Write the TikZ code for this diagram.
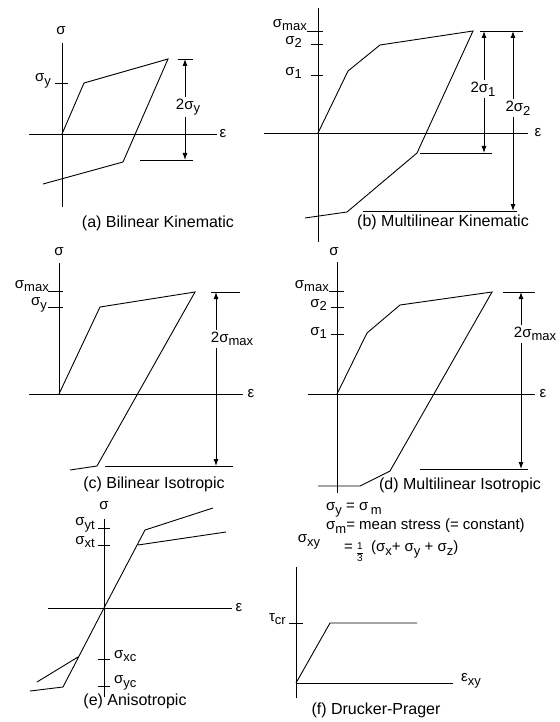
\documentclass[tikz,border=0pt]{standalone}
\usepackage{fontspec}
\setmainfont{Liberation Sans}
\usetikzlibrary{arrows.meta}
\newcommand{\sg}{σ}
\newcommand{\sbs}[1]{\raisebox{-0.45ex}{\fontsize{13}{13}\selectfont #1}}
\newcommand{\third}{\raisebox{-0.3\height}{\fontsize{10}{10}\selectfont\renewcommand{\arraystretch}{1.15}\setlength{\tabcolsep}{0pt}\begin{tabular}{c}1\\\hline 3\end{tabular}}}
\tikzset{ln/.style={line width=0.9pt}}
\tikzset{dim/.style={line width=0.9pt,{Latex[length=7pt,width=5pt]}-{Latex[length=7pt,width=5pt]}}}
\tikzset{lbl/.style={inner sep=1pt,font=\fontsize{15}{17}\selectfont}}
\tikzset{capt/.style={inner sep=1pt,font=\fontsize{16}{18}\selectfont}}
\tikzset{gap/.style={lbl,fill=white,inner sep=2pt}}

\begin{document}
\begin{tikzpicture}[x=1pt,y=-1pt]
\useasboundingbox (0,0) rectangle (559,722);

% (a) bilinear kinematic
\begin{scope}
    \coordinate (oa) at (62,134);
    \coordinate (a1) at (84,83);
    \coordinate (a2) at (168,59);
    \coordinate (a3) at (123,162);
    \coordinate (a4) at (43,184);
    \draw[ln] (62,43) -- (62,207) (29,134) -- (217,134);
    \draw[ln] (55,83) -- (68,83);
    \node[lbl] (siga) at (61,31) {\sg};
    \node[lbl] (epsa) at (223,134) {ε};
    \node[lbl,anchor=east] (sya) at (52,81) {\sg\sbs{y}};
    \draw[ln] (oa) -- (a1) -- (a2) -- (a3) -- (a4);
    \coordinate (ta) at (185,59);
    \coordinate (ba) at (185,160);
    \draw[ln] (178,59) -- (193,59) (140,160) -- (193,160);
    \draw[dim] (ta) -- (ba);
    \node[gap] (da) at (188,107) {2\sg\sbs{y}};
    \node[capt] (capa) at (158,223) {(a) Bilinear Kinematic};
\end{scope}

% (b) multilinear kinematic
\begin{scope}
    \coordinate (ob) at (318,133);
    \coordinate (b1) at (348,71);
    \coordinate (b2) at (380,45);
    \coordinate (b3) at (473,31);
    \coordinate (b4) at (417,153);
    \coordinate (b5) at (347,212);
    \coordinate (b6) at (305,218);
    \draw[ln] (318,8) -- (318,242) (264,133) -- (528,133);
    \draw[ln] (307,31) -- (323,31) (311,44) -- (323,44) (311,75) -- (323,75);
    \node[lbl] (epsb) at (538,133) {ε};
    \node[lbl,anchor=east] (smb) at (308,25) {\sg\sbs{max}};
    \node[lbl,anchor=east] (s2b) at (303,42) {\sg\sbs{2}};
    \node[lbl,anchor=east] (s1b) at (303,73) {\sg\sbs{1}};
    \draw[ln] (ob) -- (b1) -- (b2) -- (b3) -- (b4) -- (b5) -- (b6);
    \coordinate (tb1) at (484,31);
    \coordinate (bb1) at (484,153);
    \coordinate (tb2) at (513,31);
    \coordinate (bb2) at (513,211);
    \draw[ln] (480,31) -- (523,31) (420,153) -- (492,153) (363,211) -- (517,211);
    \draw[dim] (tb1) -- (bb1);
    \draw[dim] (tb2) -- (bb2);
    \node[gap] (db1) at (483,89) {2\sg\sbs{1}};
    \node[gap] (db2) at (518,108) {2\sg\sbs{2}};
    \node[capt] (capb) at (443,222) {(b) Multilinear Kinematic};
\end{scope}

% (c) bilinear isotropic
\begin{scope}
    \coordinate (oc) at (59,394);
    \coordinate (c1) at (100,307);
    \coordinate (c2) at (195,292);
    \coordinate (c3) at (97,466);
    \coordinate (c4) at (70,470);
    \draw[ln] (59,263) -- (oc) (29,394) -- (243,394);
    \draw[ln] (48,291) -- (63,291) (48,307) -- (63,307);
    \node[lbl] (sigc) at (59,252) {\sg};
    \node[lbl] (epsc) at (251,394) {ε};
    \node[lbl,anchor=east] (smc) at (50,286) {\sg\sbs{max}};
    \node[lbl,anchor=east] (syc) at (48,305) {\sg\sbs{y}};
    \draw[ln] (oc) -- (c1) -- (c2) -- (c3) -- (c4);
    \coordinate (tc) at (216,292);
    \coordinate (bc) at (216,466);
    \draw[ln] (211,292) -- (240,292) (105,466) -- (233,466);
    \draw[dim] (tc) -- (bc);
    \node[gap] (dc) at (232,339) {2\sg\sbs{max}};
    \node[capt] (capc) at (154,484) {(c) Bilinear Isotropic};
\end{scope}

% (d) multilinear isotropic
\begin{scope}
    \coordinate (od) at (337,394);
    \coordinate (d1) at (367,333);
    \coordinate (d2) at (400,305);
    \coordinate (d3) at (492,292);
    \coordinate (d4) at (390,471);
    \coordinate (d5) at (360,486);
    \coordinate (d6) at (318,486);
    \draw[ln] (337,262) -- (337,493) (308,394) -- (535,394);
    \draw[ln] (329,291) -- (344,291) (331,307) -- (344,307) (331,334) -- (344,334);
    \node[lbl] (sigd) at (334,252) {\sg};
    \node[lbl] (epsd) at (543,394) {ε};
    \node[lbl,anchor=east] (smd) at (330,286) {\sg\sbs{max}};
    \node[lbl,anchor=east] (s2d) at (328,305) {\sg\sbs{2}};
    \node[lbl,anchor=east] (s1d) at (328,333) {\sg\sbs{1}};
    \draw[ln] (od) -- (d1) -- (d2) -- (d3) -- (d4) -- (d5) -- (d6);
    \coordinate (td) at (521,292);
    \coordinate (bd) at (521,469);
    \draw[ln] (503,292) -- (535,292) (420,469) -- (528,469);
    \draw[dim] (td) -- (bd);
    \node[gap] (dd) at (535,334) {2\sg\sbs{max}};
    \node[capt] (capd) at (460,485) {(d) Multilinear Isotropic};
\end{scope}

% (e) anisotropic
\begin{scope}
    \coordinate (oe) at (104,608);
    \coordinate (e1) at (145,530);
    \coordinate (e2) at (213,508);
    \coordinate (e3) at (138,545);
    \coordinate (e4) at (226,532);
    \coordinate (e5) at (63,687);
    \coordinate (e6) at (30,691);
    \coordinate (e7) at (78,657);
    \coordinate (e8) at (37,682);
    \draw[ln] (104,519) -- (104,697) (48,608) -- (232,608);
    \draw[ln] (98,528) -- (110,528) (98,545) -- (110,545) (98,659) -- (110,659) (98,686) -- (110,686);
    \node[lbl] (sige) at (104,506) {\sg};
    \node[lbl] (epse) at (239,608) {ε};
    \node[lbl,anchor=east] (syte) at (96,525) {\sg\sbs{yt}};
    \node[lbl,anchor=east] (sxte) at (96,542) {\sg\sbs{xt}};
    \node[lbl,anchor=west] (sxce) at (113,656) {\sg\sbs{xc}};
    \node[lbl,anchor=west] (syce) at (113,683) {\sg\sbs{yc}};
    \draw[ln] (oe) -- (e1) -- (e2) (e3) -- (e4);
    \draw[ln] (oe) -- (e5) -- (e6) (e7) -- (e8);
    \node[capt] (cape) at (135,701) {(e) Anisotropic};
\end{scope}

% (f) drucker-prager
\begin{scope}
    \coordinate (of) at (296,683);
    \coordinate (f1) at (330,623);
    \coordinate (f2) at (417,623);
    \node[lbl,anchor=west] (eqf1) at (325,510) {\sg\sbs{y} = \sg\,\sbs{m}};
    \node[lbl,anchor=west] (eqf2) at (325,526) {\sg\sbs{m}= mean stress (= constant)};
    \node[lbl,anchor=west,inner sep=0pt] (eqf3) at (344,553) {= \third\ \ (\sg\sbs{x}+ \sg\sbs{y} + \sg\sbs{z})};
    \draw[ln] (296,567) -- (296,698) (of) -- (453,683);
    \draw[ln] (289,623) -- (303,623);
    \node[lbl] (sxyf) at (309,542) {\sg\sbs{xy}};
    \node[lbl,anchor=west] (exyf) at (460,681) {ε\sbs{xy}};
    \node[lbl,anchor=east] (tcf) at (287,619) {τ\sbs{cr}};
    \draw[ln] (of) -- (f1) -- (f2);
    \node[capt] (capf) at (376,710) {(f) Drucker-Prager};
\end{scope}
\end{tikzpicture}
\end{document}
